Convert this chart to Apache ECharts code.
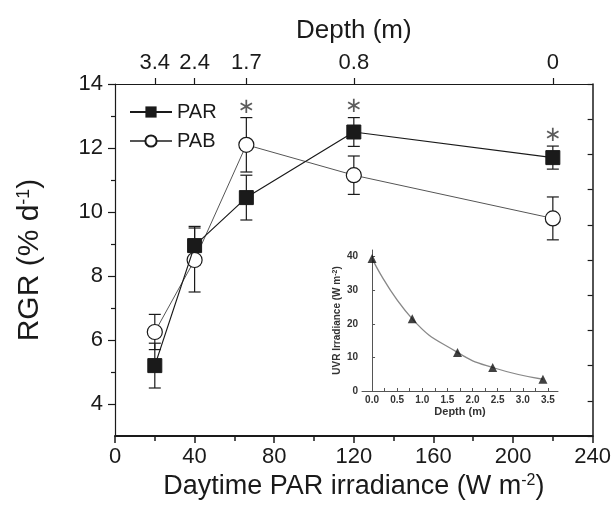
<!DOCTYPE html>
<html>
<head>
<meta charset="utf-8">
<script src="https://cdn.jsdelivr.net/npm/echarts@6/dist/echarts.min.js"></script>
<style>
  html, body { margin: 0; padding: 0; background: #fff; }
  #chart { width: 614px; height: 509px; }
</style>
</head>
<body>
<div id="chart"></div>
<script>
// main plot: RGR vs daytime PAR irradiance
const irradiance = [20, 40, 66, 120, 220]
const parRGR = [5.2, 8.95, 10.45, 12.5, 11.7]
const parErr = [0.7, 0.6, 0.7, 0.45, 0.36]
const pabRGR = [6.25, 8.5, 12.1, 11.15, 9.8]
const pabErr = [0.55, 1.0, 0.85, 0.6, 0.67]

// significance marks (*)
const sigX = [66, 120, 220]
const sigY = [13.25, 13.3, 12.4]

// top axis: depth at each irradiance
const depthAt = [20, 40, 66, 120, 220]
const depthLabels = ['3.4', '2.4', '1.7', '0.8', '0']

// axis ticks
const yTicks = [4, 6, 8, 10, 12, 14]
const yMinorTicks = [5, 7, 9, 11, 13]

// inset: UVR irradiance vs depth
const uvDepth = [0, 0.8, 1.7, 2.4, 3.4]
const uvIrr = [39.5, 21.5, 11.5, 7, 3.5]
const insetXLabels = [0, 0.5, 1.0, 1.5, 2.0, 2.5, 3.0, 3.5]
const insetXTicks = [0, 0.25, 0.5, 0.75, 1.0, 1.25, 1.5, 1.75, 2.0, 2.25, 2.5, 2.75, 3.0, 3.25, 3.5]
const insetYLabels = [0, 10, 20, 30, 40]

const ink = '#1a1a1a'
const font = 'Liberation Sans'

function errBars(xs, ys, es) {
  return xs.map((x, i) => [x, ys[i] - es[i], ys[i] + es[i]])
}

function renderErr(params, api) {
  const x = api.value(0)
  const lo = api.coord([x, api.value(1)])
  const hi = api.coord([x, api.value(2)])
  const w = 6
  const st = { stroke: ink, lineWidth: 1.2 }
  return {
    type: 'group',
    children: [
      { type: 'line', shape: { x1: lo[0], y1: lo[1], x2: hi[0], y2: hi[1] }, style: st },
      { type: 'line', shape: { x1: lo[0] - w, y1: lo[1], x2: lo[0] + w, y2: lo[1] }, style: st },
      { type: 'line', shape: { x1: hi[0] - w, y1: hi[1], x2: hi[0] + w, y2: hi[1] }, style: st }
    ]
  }
}

const supRich = size => ({ sup: { fontSize: size, verticalAlign: 'top', fontFamily: font, color: ink } })

const chart = echarts.init(document.getElementById('chart'))

chart.setOption({
  animation: false,
  textStyle: { fontFamily: font, color: ink },
  grid: [
    { left: 115, right: 18, top: 84, bottom: 73 },
    { left: 362, right: 56, top: 250, bottom: 118 }
  ],
  legend: {
    data: ['PAR', 'PAB'],
    orient: 'vertical',
    left: 124,
    top: 97,
    itemWidth: 42,
    itemHeight: 14,
    itemGap: 9,
    textStyle: { fontSize: 20, color: ink, fontFamily: font }
  },
  xAxis: [
    {
      type: 'value', gridIndex: 0, min: 0, max: 240, interval: 40,
      name: 'Daytime PAR irradiance (W m{sup|-2})',
      nameLocation: 'middle', nameGap: 36,
      nameTextStyle: { fontSize: 27, color: ink, rich: supRich(16) },
      axisLine: { lineStyle: { color: ink, width: 2 } },
      axisTick: { length: 7, lineStyle: { color: ink, width: 1.5 } },
      minorTick: { show: true, splitNumber: 2, length: 5, lineStyle: { color: ink, width: 1.5 } },
      axisLabel: { fontSize: 22, color: ink, margin: 10 },
      splitLine: { show: false }
    },
    {
      type: 'value', gridIndex: 0, position: 'top', min: 0, max: 240,
      name: 'Depth (m)',
      nameLocation: 'middle', nameGap: 40,
      nameTextStyle: { fontSize: 26, color: ink },
      axisLine: { lineStyle: { color: ink, width: 1.2 } },
      axisTick: { customValues: depthAt, length: 6, lineStyle: { color: ink, width: 1.2 } },
      axisLabel: {
        customValues: depthAt, fontSize: 22, color: ink, margin: 10,
        formatter: v => depthLabels[depthAt.indexOf(v)]
      },
      splitLine: { show: false }
    },
    {
      type: 'value', gridIndex: 1, min: -0.2, max: 3.7,
      name: 'Depth (m)',
      nameLocation: 'middle', nameGap: 15,
      nameTextStyle: { fontSize: 11, fontWeight: 'bold', color: '#333' },
      axisLine: { lineStyle: { color: '#555', width: 1 } },
      axisTick: { customValues: insetXTicks, inside: true, length: 3, lineStyle: { color: '#555' } },
      axisLabel: {
        customValues: insetXLabels, fontSize: 10, fontWeight: 'bold', color: '#333', margin: 4,
        formatter: v => v.toFixed(1)
      },
      splitLine: { show: false }
    }
  ],
  yAxis: [
    {
      type: 'value', gridIndex: 0, min: 3, max: 14,
      name: 'RGR (% d{sup|-1})',
      nameLocation: 'middle', nameGap: 70, nameRotate: 90,
      nameTextStyle: { fontSize: 30, color: ink, rich: supRich(18) },
      axisLine: { show: true, lineStyle: { color: ink, width: 1.2 } },
      axisTick: { customValues: yTicks, length: 7, lineStyle: { color: ink, width: 1.2 } },
      axisLabel: { customValues: yTicks, fontSize: 22, color: ink, margin: 12 },
      splitLine: { show: false }
    },
    {
      type: 'value', gridIndex: 0, min: 3, max: 14, position: 'left',
      axisLine: { show: false },
      axisTick: { customValues: yMinorTicks, length: 4, lineStyle: { color: ink, width: 1.2 } },
      axisLabel: { show: false },
      splitLine: { show: false }
    },
    {
      type: 'value', gridIndex: 0, min: 0, max: 10, interval: 1, position: 'right',
      axisLine: { show: true, lineStyle: { color: ink, width: 1.5 } },
      axisTick: { inside: true, length: 5, lineStyle: { color: ink, width: 1.2 } },
      axisLabel: { show: false },
      splitLine: { show: false }
    },
    {
      type: 'value', gridIndex: 1, min: 0, max: 42,
      name: 'UVR Irradiance (W m{sup|-2})',
      nameLocation: 'middle', nameGap: 20, nameRotate: 90,
      nameTextStyle: { fontSize: 10, fontWeight: 'bold', color: '#333', rich: { sup: { fontSize: 7, verticalAlign: 'top', fontWeight: 'bold', color: '#333' } } },
      axisLine: { show: true, lineStyle: { color: '#555', width: 1 } },
      axisTick: { customValues: insetYLabels, inside: true, length: 3, lineStyle: { color: '#555' } },
      axisLabel: { customValues: insetYLabels, fontSize: 10, fontWeight: 'bold', color: '#333', margin: 4 },
      splitLine: { show: false }
    }
  ],
  series: [
    {
      name: 'PAB err', type: 'custom', xAxisIndex: 0, yAxisIndex: 0, z: 1,
      renderItem: renderErr, data: errBars(irradiance, pabRGR, pabErr)
    },
    {
      name: 'PAR err', type: 'custom', xAxisIndex: 0, yAxisIndex: 0, z: 1,
      renderItem: renderErr, data: errBars(irradiance, parRGR, parErr)
    },
    {
      name: 'PAB', type: 'line', xAxisIndex: 0, yAxisIndex: 0, z: 3,
      data: irradiance.map((x, i) => [x, pabRGR[i]]),
      symbol: 'circle', symbolSize: 15,
      lineStyle: { color: '#555', width: 1 },
      itemStyle: { color: '#fff', borderColor: ink, borderWidth: 1.2 }
    },
    {
      name: 'PAR', type: 'line', xAxisIndex: 0, yAxisIndex: 0, z: 4,
      data: irradiance.map((x, i) => [x, parRGR[i]]),
      symbol: 'rect', symbolSize: 14,
      lineStyle: { color: ink, width: 1.2 },
      itemStyle: { color: ink, borderColor: ink }
    },
    {
      name: 'sig', type: 'scatter', xAxisIndex: 0, yAxisIndex: 0, z: 5,
      data: sigX.map((x, i) => [x, sigY[i]]),
      symbolSize: 0,
      label: { show: true, position: 'inside', formatter: '\u2217', fontSize: 21, color: '#333', fontFamily: 'DejaVu Sans' }
    },
    {
      name: 'UVR fit', type: 'line', xAxisIndex: 2, yAxisIndex: 3, z: 2,
      data: uvDepth.map((d, i) => [d, uvIrr[i]]),
      smooth: true, showSymbol: false,
      lineStyle: { color: '#888', width: 1.3 }
    },
    {
      name: 'UVR', type: 'scatter', xAxisIndex: 2, yAxisIndex: 3, z: 3,
      data: uvDepth.map((d, i) => [d, uvIrr[i]]),
      symbol: 'triangle', symbolSize: 9,
      itemStyle: { color: '#111' }
    }
  ]
})
</script>
</body>
</html>
